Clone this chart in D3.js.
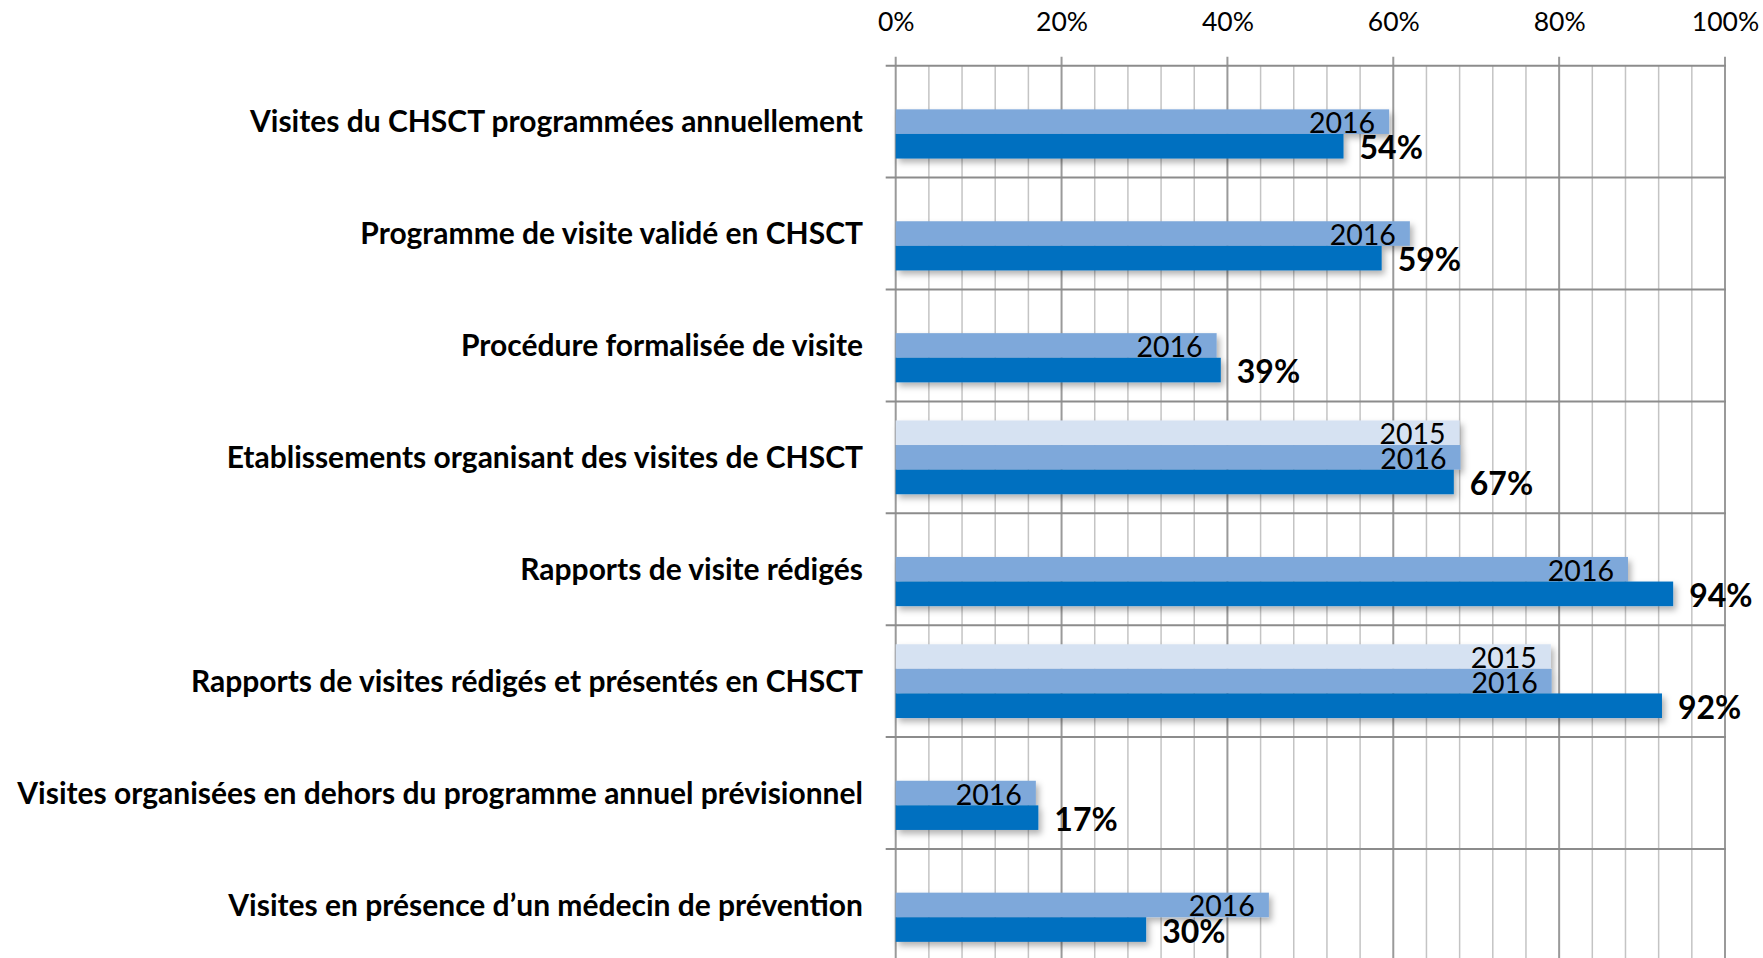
<!DOCTYPE html>
<html>
<head>
<meta charset="utf-8">
<script src="https://cdn.jsdelivr.net/npm/d3@7"></script>
<style>
html,body{margin:0;padding:0;background:#fff;overflow:hidden;}
svg{display:block;}
</style>
</head>
<body>
<svg id="chart" width="1763" height="958"></svg>
<script>
const categories = [
  "Visites du CHSCT programmées annuellement",
  "Programme de visite validé en CHSCT",
  "Procédure formalisée de visite",
  "Etablissements organisant des visites de CHSCT",
  "Rapports de visite rédigés",
  "Rapports de visites rédigés et présentés en CHSCT",
  "Visites organisées en dehors du programme annuel prévisionnel",
  "Visites en présence d’un médecin de prévention"
];
const seriesNames = ["2015", "2016", "2017"];
const values2015 = [null, null, null, 0.680, null, 0.790, null, null];
const values2016 = [0.595, 0.620, 0.387, 0.681, 0.883, 0.791, 0.169, 0.450];
const values2017 = [0.540, 0.586, 0.392, 0.673, 0.9375, 0.924, 0.172, 0.302];
const tickValues = [0, 0.2, 0.4, 0.6, 0.8, 1.0];
const minorTickValues = d3.range(0, 26).map(i => i * 0.04);

const colors = {"2015": "#D6E2F2", "2016": "#7EA8DA", "2017": "#0070C0"};
const FONT = "Lato, 'Open Sans', sans-serif";

(function(){
const svg = d3.select("#chart");
const pLeft = 895.7, pRight = 1725.0, pTop = 65.7, rowH = 111.9;

const x = d3.scaleLinear().domain([0, 1]).range([pLeft, pRight]);
const y = d3.scaleBand().domain(categories).range([pTop, pTop + rowH * categories.length]).paddingInner(0).paddingOuter(0);
const ySub = d3.scaleBand().domain(seriesNames).range([0, y.bandwidth()]).paddingInner(0).paddingOuter(0.775);

// shadow filter
const defs = svg.append("defs");
const f = defs.append("filter").attr("id", "shadow").attr("x", "-5%").attr("y", "-30%").attr("width", "115%").attr("height", "180%");
f.append("feDropShadow").attr("dx", 3).attr("dy", 4).attr("stdDeviation", 3).attr("flood-color", "#000").attr("flood-opacity", 0.3);

// minor gridlines
svg.append("g").selectAll("line").data(minorTickValues.filter(v => Math.abs(v * 5 - Math.round(v * 5)) > 1e-6))
  .join("line")
  .attr("x1", d => x(d)).attr("x2", d => x(d))
  .attr("y1", pTop).attr("y2", 958)
  .attr("stroke", "#C4C4C4").attr("stroke-width", 1.5);

// major gridlines (with ticks above)
svg.append("g").selectAll("line").data(tickValues)
  .join("line")
  .attr("x1", d => x(d)).attr("x2", d => x(d))
  .attr("y1", pTop - 9).attr("y2", 958)
  .attr("stroke", "#9A9A9A").attr("stroke-width", 2);

// horizontal category boundaries
const bounds = d3.range(0, categories.length + 1).map(i => pTop + i * rowH);
svg.append("g").selectAll("line").data(bounds)
  .join("line")
  .attr("x1", pLeft - 10).attr("x2", pRight + 1)
  .attr("y1", d => d).attr("y2", d => d)
  .attr("stroke", "#8C8C8C").attr("stroke-width", 2);

// axis labels (top)
const xAxis = d3.axisTop(x).tickValues(tickValues).tickFormat(d3.format(".0%")).tickSize(0);
const ax = svg.append("g").attr("transform", `translate(0,34)`).call(xAxis);
ax.select(".domain").remove();
ax.selectAll("text").attr("font-family", FONT).attr("font-size", 26.5).attr("fill", "#000").attr("dy", 0);

// bars
const seriesData = [
  {name: "2015", values: values2015},
  {name: "2016", values: values2016},
  {name: "2017", values: values2017}
];
const barsG = svg.append("g").attr("filter", "url(#shadow)");
seriesData.forEach(s => {
  barsG.selectAll(null).data(categories.map((c, i) => ({c, v: s.values[i]})).filter(d => d.v != null))
    .join("rect")
    .attr("x", x(0))
    .attr("y", d => y(d.c) + ySub(s.name))
    .attr("width", d => x(d.v) - x(0))
    .attr("height", ySub.bandwidth())
    .attr("fill", colors[s.name]);
});

// year labels inside the lighter bars
["2015", "2016"].forEach(name => {
  const s = seriesData.find(d => d.name === name);
  svg.append("g").selectAll("text")
    .data(categories.map((c, i) => ({c, v: s.values[i]})).filter(d => d.v != null))
    .join("text")
    .attr("x", d => x(d.v) - 14)
    .attr("y", d => y(d.c) + ySub(name) + ySub.bandwidth() / 2 + 11.5)
    .attr("text-anchor", "end")
    .attr("font-family", FONT).attr("font-size", 28.5).attr("fill", "#000")
    .text(name);
});

// value labels for the dark bars
svg.append("g").selectAll("text")
  .data(categories.map((c, i) => ({c, v: values2017[i]})))
  .join("text")
  .attr("x", d => x(d.v) + 16)
  .attr("y", d => y(d.c) + ySub("2017") + ySub.bandwidth() / 2 + 13)
  .attr("text-anchor", "start")
  .attr("font-family", FONT).attr("font-weight", "bold").attr("font-size", 32).attr("fill", "#000")
  .text(d => d3.format(".0%")(d.v));

// category labels
const catText = svg.append("g").selectAll("text").data(categories)
  .join("text")
  .attr("x", 863)
  .attr("y", d => y(d) + y.bandwidth() / 2 + 8.5)
  .attr("text-anchor", "end")
  .attr("font-family", FONT).attr("font-weight", "bold").attr("font-size", 26).attr("fill", "#000")
  .text(d => d);
let maxW = 0;
catText.each(function(){ maxW = Math.max(maxW, this.getComputedTextLength()); });
if (maxW > 0) {
  const fs = 26 * 846 / maxW;
  catText.attr("font-size", fs).attr("y", d => y(d) + y.bandwidth() / 2 + fs * 0.36);
}
})();
</script>
</body>
</html>
